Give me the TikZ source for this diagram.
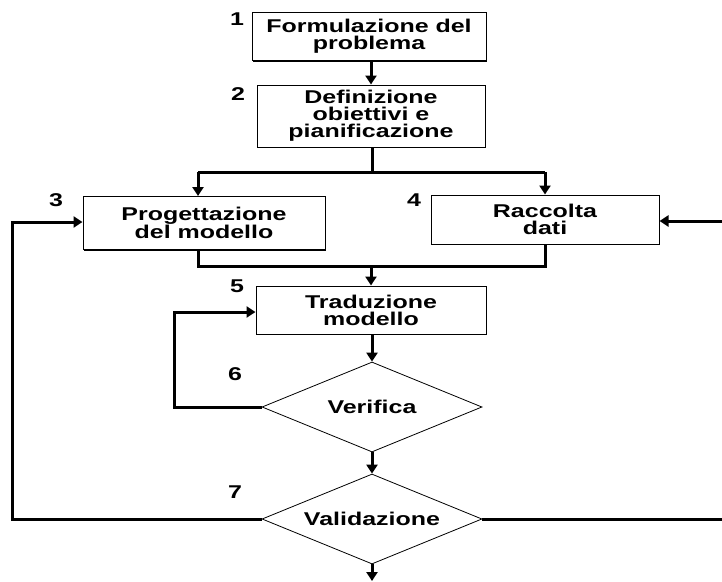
\documentclass[tikz,border=0pt]{standalone}
\usepackage{fontspec}
\setmainfont{Liberation Sans}[FakeStretch=1.35]
\usetikzlibrary{arrows.meta,shapes.geometric,shadows}

\tikzset{
  fase/.style={draw, line width=1pt, fill=white, align=center, inner sep=0pt,
    drop shadow={shadow xshift=1.3pt, shadow yshift=-1.3pt, fill=black, opacity=1},
    font=\fontsize{18.5}{16.8}\selectfont\bfseries},
  test/.style={draw, diamond, aspect=2.45, line width=0.8pt, fill=white, inner sep=0pt,
    minimum width=220pt, minimum height=90pt, font=\fontsize{18.5}{16.8}\selectfont\bfseries},
  num/.style={font=\fontsize{18.5}{16.8}\selectfont\bfseries},
  linea/.style={line width=3pt},
  flusso/.style={line width=3pt, -{Triangle[width=11pt,length=9pt]}},
}

\begin{document}
\begin{tikzpicture}[x=1pt, y=-1pt]
	\useasboundingbox (0,0) rectangle (722,581);
	\clip (0,0) rectangle (722,581);
	% fasi
	\node[fase, minimum width=234pt, minimum height=48pt] (f1) at (369,36.5) {Formulazione del\\problema};
	\node[fase, minimum width=228pt, minimum height=62pt] (f2) at (371,116) {Definizione\\obiettivi e\\pianificazione};
	\node[fase, minimum width=242pt, minimum height=53pt] (f3) at (204,223) {Progettazione\\del modello};
	\node[fase, minimum width=228pt, minimum height=49pt] (f4) at (545,219.5) {Raccolta\\dati};
	\node[fase, minimum width=230pt, minimum height=48pt] (f5) at (371,310) {Traduzione\\modello};
	\node[test] (d6) at (372,407) {Verifica};
	\node[test] (d7) at (372,519) {Validazione};
	% numeri
	\node[num] (n1) at (237,19) {1};
	\node[num] (n2) at (238,94) {2};
	\node[num] (n3) at (56,200) {3};
	\node[num] (n4) at (414,200) {4};
	\node[num] (n5) at (237,286) {5};
	\node[num] (n6) at (235,374) {6};
	\node[num] (n7) at (235,492) {7};
	% punti di snodo
	\coordinate (c2) at (372,172);
	\coordinate (j3) at (198,172);
	\coordinate (j4) at (545,172);
	\coordinate (k3) at (198,266);
	\coordinate (k4) at (545,266);
	\coordinate (l6) at (174,312);
	\coordinate (fb3) at (12,222);
	\coordinate (fb4) at (740,221);
	\coordinate (out) at (372,581);
	% collegamenti
	\draw[flusso] (f1.south -| f2.north) -- (f2.north);
	\draw[linea] (f2.south -| c2) -- (c2);
	\draw[linea] (j3) -- (j4);
	\draw[flusso] (j3) -- (j3 |- f3.north);
	\draw[flusso] (j4) -- (f4.north);
	\draw[linea] (k3 |- f3.south) -- (k3) -- (k4) -- (k4 |- f4.south);
	\draw[flusso] (k3 -| f5.north) -- (f5.north);
	\draw[flusso] (f5.south -| d6.north) -- (d6.north);
	\draw[flusso] (d6.west) -| (l6) -- (l6 -| f5.west);
	\draw[flusso] (d6.south) -- (d7.north);
	\draw[flusso] (d7.south) -- (out);
	\draw[flusso] (d7.west) -| (fb3) -- (fb3 -| f3.west);
	\draw[flusso] (d7.east) -| (fb4) -- (fb4 -| f4.east);
\end{tikzpicture}
\end{document}
